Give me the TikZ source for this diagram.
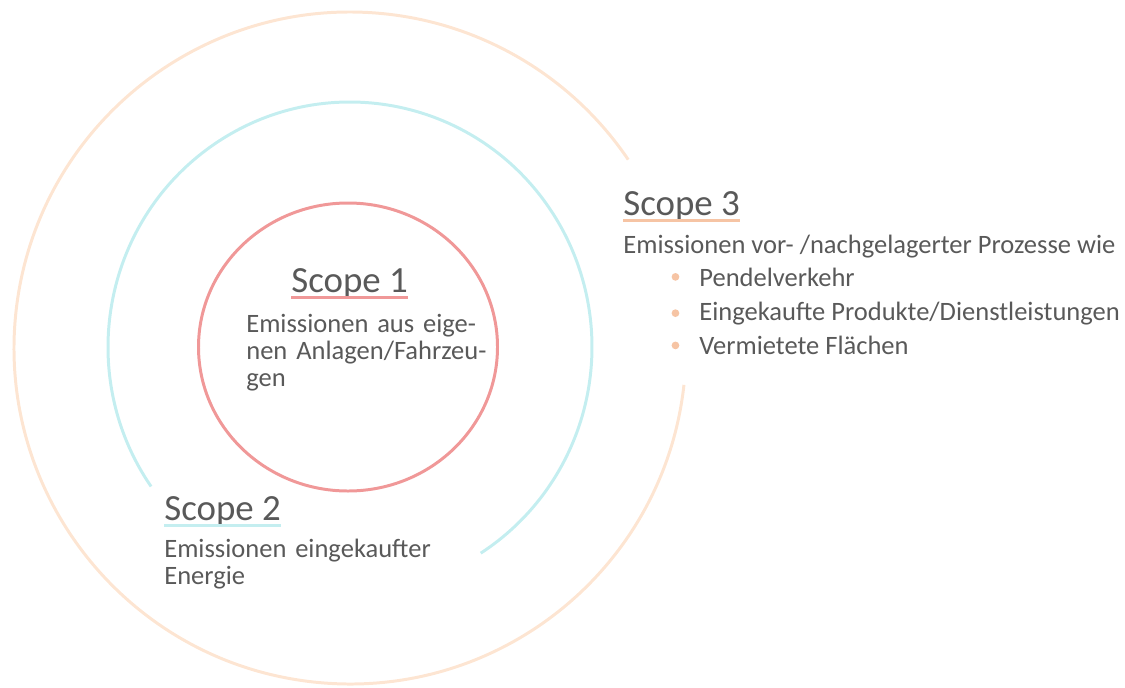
\documentclass[tikz,border=0pt]{standalone}
\usepackage{fontspec}
\setmainfont{Carlito}
\usepackage{xcolor}
\usetikzlibrary{positioning}

\definecolor{scopered}{RGB}{240,152,152}
\definecolor{scopecyan}{RGB}{196,238,240}
\definecolor{scopepeach}{RGB}{253,229,210}
\definecolor{scopeorange}{RGB}{246,196,164}
\definecolor{textgray}{RGB}{89,89,89}

\begin{document}
\begin{tikzpicture}[
    x=0.02cm, y=-0.02cm,
    ring/.style={line width=1.7pt},
    heading/.style={inner sep=0pt, anchor=base west, text=textgray, font=\fontsize{21}{25}\selectfont},
    bodytext/.style={inner sep=0pt, anchor=base west, text=textgray, font=\fontsize{15.1}{15.4}\selectfont},
    bodyblock/.style={bodytext, text width=7cm, align=left},
    listitem/.style={bodytext},
    bullet/.style={circle, fill=scopeorange, inner sep=0pt, minimum size=4.4pt},
    underline/.style={line width=1.8pt}
]
\useasboundingbox (0,0) rectangle (1125,687);

% Rings
\draw [ring, scopepeach] (350,348) ++(6.3:336 and 336) arc [start angle=6.3, end angle=325.9, x radius=336, y radius=336];
\draw [ring, scopecyan] (350,347) ++(145.3:242 and 245) arc [start angle=145.3, end angle=417.3, x radius=242, y radius=245];
\draw [ring, scopered] (348,347) ellipse [x radius=149.5, y radius=144];

% Nodes
\node (head1) [heading] at (291,292) {Scope 1};
\node (txt1) [bodyblock] at (246,332) {Emissionen aus eige-\\nen Anlagen/Fahrzeu-\\gen};
\node (head2) [heading] at (164,520) {Scope 2};
\node (txt2) [bodyblock] at (164,557) {Emissionen eingekaufter\\Energie};
\node (head3) [heading] at (623,215) {Scope 3};
\node (txt3) [bodytext] at (623,253) {Emissionen vor- /nachgelagerter Prozesse wie};
\node (item1) [listitem] at (699,286) {Pendelverkehr};
\node (item2) [listitem, below=19.4pt of item1.base west, anchor=base west] {Eingekaufte Produkte/Dienstleistungen};
\node (item3) [listitem, below=19.6pt of item2.base west, anchor=base west] {Vermietete Flächen};
\node (dot1) [bullet, left=11pt of item1.west] {};
\node (dot2) [bullet, left=11pt of item2.west] {};
\node (dot3) [bullet, left=11pt of item3.west] {};

% Underlines
\draw [underline, scopered] ([yshift=-3pt]head1.base west) -- ([yshift=-3pt]head1.base east);
\draw [underline, scopecyan] ([yshift=-3pt]head2.base west) -- ([yshift=-3pt]head2.base east);
\draw [underline, scopeorange] ([yshift=-3pt]head3.base west) -- ([yshift=-3pt]head3.base east);

\end{tikzpicture}
\end{document}
